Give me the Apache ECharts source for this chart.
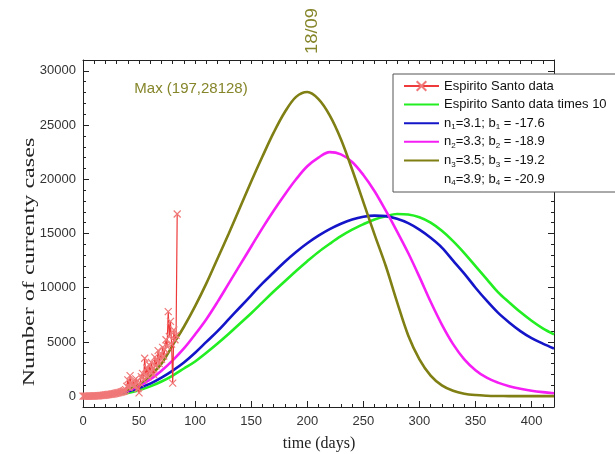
<!DOCTYPE html>
<html><head><meta charset="utf-8">
<script src="https://cdn.jsdelivr.net/npm/echarts@6/dist/echarts.min.js"></script>
<style>html,body{margin:0;padding:0;background:#fff}#c{width:615px;height:454px}</style>
</head><body><div id="c"></div><script>
// ---- data ----
const curveDays = [0,10,20,30,40,50,60,70,80,90,100,110,120,130,140,150,160,170,180,190,200,210,220,230,240,250,260,270,280,290,300,310,320,330,340,350,360,370,380,390,400,410,420];
const greenValues = [0,15,60,150,300,550,900,1350,1900,2550,3200,4000,4850,5750,6700,7650,8650,9650,10600,11550,12450,13300,14050,14750,15350,15850,16300,16600,16800,16750,16500,16000,15250,14300,13200,12000,10800,9600,8650,7750,6950,6250,5700];
const n1Values = [0,20,80,200,420,750,1150,1700,2350,3100,4000,5000,6000,7100,8200,9300,10400,11400,12400,13300,14100,14800,15400,15900,16300,16550,16650,16600,16350,15950,15350,14600,13700,12500,11300,10000,8800,7700,6800,6000,5350,4850,4400];
const n2Values = [0,25,100,250,520,950,1550,2350,3300,4400,5700,7100,8700,10400,12100,13800,15500,17100,18600,20000,21200,22000,22500,22300,21600,20400,18900,17100,15200,13200,11000,8700,6600,4800,3400,2400,1700,1250,920,680,500,370,270];
const n3Values = [0,30,120,300,600,1100,1900,3000,4700,6400,8300,10400,12700,15000,17400,19800,22100,24300,26200,27600,28050,27400,25900,23700,20900,17900,14900,12000,8700,5600,3400,1900,1000,500,230,100,40,15,5,2,0,0,0];
const dataDays = [0,1,2,3,4,5,6,7,8,9,10,11,12,13,14,15,16,17,18,19,20,21,22,23,24,25,26,27,28,29,30,31,32,33,34,35,36,37,38,39,40,41,42,43,44,45,46,47,48,49,50,51,52,53,54,55,56,57,58,59,60,61,62,63,64,65,66,67,68,69,70,71,72,73,74,75,76,77,78,79,80,81,82,83,84];
const dataValues = [0,0,0,1,1,2,3,5,8,10,15,20,25,30,40,50,60,70,80,95,110,120,135,150,160,180,200,210,230,260,280,300,330,350,380,420,450,500,600,900,1500,800,1900,1200,1000,1400,900,1600,1300,700,300,1200,1800,2100,1500,3500,2000,2600,1800,2900,2200,3100,2500,2000,3600,2800,3300,4200,3000,3800,3400,4500,3700,4300,5200,4600,7800,5500,6900,4800,1200,6100,5200,5600,16800];
const xTickLabels = [0,50,100,150,200,250,300,350,400];
const yTickLabels = [0,5000,10000,15000,20000,25000,30000];
const seriesNames = ['Espirito Santo data','Espirito Santo data times 10','n1=3.1; b1 = -17.6','n2=3.3; b2 = -18.9','n3=3.5; b3 = -19.2','n4=3.9; b4 = -20.9'];
const legendRich = {
  'n1=3.1; b1 = -17.6': 'n{s|1}=3.1; b{s|1} = -17.6',
  'n2=3.3; b2 = -18.9': 'n{s|2}=3.3; b{s|2} = -18.9',
  'n3=3.5; b3 = -19.2': 'n{s|3}=3.5; b{s|3} = -19.2',
  'n4=3.9; b4 = -20.9': 'n{s|4}=3.9; b{s|4} = -20.9'
};
const maxLabel = 'Max (197,28128)';
const dateLabel = '18/09';

// ---- chart ----
const chart = echarts.init(document.getElementById('c'), null, {renderer:'canvas'});
const SANS = 'Liberation Sans, Arial, sans-serif';
const SERIF = 'Liberation Serif, Times New Roman, serif';
const AX = '#222';
const OLIVE_TXT = '#85852a';
const pairs = (xs, ys) => xs.map((x, i) => [x, ys[i]]);
const curve = (name, vals, color) => ({
  name, type:'line', xAxisIndex:0, yAxisIndex:0, data: pairs(curveDays, vals),
  smooth: 0.35, showSymbol:false, symbol:'none', color,
  lineStyle:{color, width:2.6}, itemStyle:{color}, emphasis:{disabled:true}, animation:false
});
const tickAxis = (extra) => Object.assign({
  type:'value', splitLine:{show:false},
  axisLine:{show:true, onZero:false, lineStyle:{color:AX, width:1}},
  axisTick:{show:true, inside:true, length:3, lineStyle:{color:AX, width:1}},
  axisLabel:{show:false}
}, extra);

chart.setOption({
  animation:false,
  backgroundColor:'#fff',
  grid:[
    {left:83, right:61, top:60, bottom:47},
    {left:83, right:61, top:60, bottom:57.84}
  ],
  xAxis:[
    tickAxis({gridIndex:0, min:0, max:420, interval:10, position:'bottom'}),
    tickAxis({gridIndex:0, min:0, max:420, interval:50, position:'bottom',
      axisLine:{show:false, onZero:false},
      axisTick:{show:true, inside:true, length:6, lineStyle:{color:AX, width:1}},
      axisLabel:{show:true, showMaxLabel:false, margin:8, color:'#333', fontSize:13, fontFamily:SANS,
        formatter:v => xTickLabels.includes(v) ? String(v) : ''}}),
    tickAxis({gridIndex:0, min:0, max:420, interval:10, position:'top',
      axisTick:{show:true, inside:true, length:4, lineStyle:{color:AX, width:1}}}),
    {gridIndex:1, type:'value', min:0, max:420, show:false}
  ],
  yAxis:[
    tickAxis({gridIndex:0, min:-1000, max:31000, interval:1000, position:'left'}),
    tickAxis({gridIndex:0, min:-1000, max:31000, interval:1000, position:'right'}),
    tickAxis({gridIndex:1, min:0, max:31000, interval:5000, position:'left',
      axisLine:{show:false, onZero:false},
      axisTick:{show:true, inside:true, length:6, lineStyle:{color:AX, width:1}},
      axisLabel:{show:true, showMaxLabel:false, margin:7, color:'#333', fontSize:13, fontFamily:SANS,
        formatter:v => yTickLabels.includes(v) ? String(v) : ''}}),
    tickAxis({gridIndex:1, min:0, max:31000, interval:5000, position:'right',
      axisLine:{show:false, onZero:false},
      axisTick:{show:true, inside:true, length:6, lineStyle:{color:AX, width:1}}})
  ],
  legend:{
    orient:'vertical', left:393, top:74, itemWidth:35, itemHeight:12, itemGap:2.6,
    padding:[4, 40, 5, 10], borderColor:'#555', borderWidth:1, backgroundColor:'#fff',
    selectedMode:false,
    data: seriesNames.map((n, i) => i === 0 ? {name:n} : {name:n, itemStyle:{opacity:0}}),
    textStyle:{fontFamily:SANS, fontSize:13, color:'#111', lineHeight:16,
      rich:{s:{fontFamily:SANS, fontSize:8, color:'#111', lineHeight:8, verticalAlign:'bottom'}}},
    formatter: name => legendRich[name] || name
  },
  series:[
    curve(seriesNames[1], greenValues, '#22ee22'),
    curve(seriesNames[2], n1Values, '#1414c8'),
    curve(seriesNames[3], n2Values, '#f51ef5'),
    curve(seriesNames[4], n3Values, '#7f7f14'),
    {name:seriesNames[5], type:'line', data:[], color:'rgba(0,0,0,0)', lineStyle:{color:'rgba(0,0,0,0)'}, showSymbol:false, symbol:'none'},
    {name:seriesNames[0], type:'line', xAxisIndex:0, yAxisIndex:0, data:pairs(dataDays, dataValues),
      symbol:'path://M0,0L10,10M10,0L0,10', symbolSize:7, showSymbol:true, showAllSymbol:true,
      color:'#ee5555', lineStyle:{color:'#ee3a3a', width:1.2},
      itemStyle:{color:'rgba(0,0,0,0)', borderColor:'#f07878', borderWidth:1.2},
      emphasis:{disabled:true}, z:3}
  ],
  graphic:[
    {type:'text', x:191, y:89, style:{text:maxLabel, font:'15px '+SANS, fill:OLIVE_TXT, align:'center', verticalAlign:'middle', textAlign:'center', textVerticalAlign:'middle'}},
    {type:'text', x:313, y:31, rotation:Math.PI/2, scaleX:1.15, style:{text:dateLabel, font:'16px '+SANS, fill:OLIVE_TXT, align:'center', verticalAlign:'middle', textAlign:'center', textVerticalAlign:'middle'}},
    {type:'text', x:30, y:262, rotation:Math.PI/2, scaleX:1.42, style:{text:'Number of currenty cases', font:'17px '+SERIF, fill:'#222', align:'center', verticalAlign:'middle', textAlign:'center', textVerticalAlign:'middle'}},
    {type:'text', x:319, y:444, style:{text:'time (days)', font:'16px '+SERIF, fill:'#222', align:'center', verticalAlign:'middle', textAlign:'center', textVerticalAlign:'middle'}}
  ]
});
</script></body></html>
